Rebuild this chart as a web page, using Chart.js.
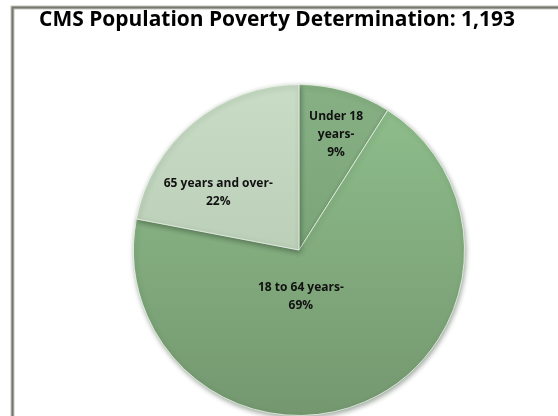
<!DOCTYPE html>
<html>
<head>
<meta charset="utf-8">
<script src="https://cdn.jsdelivr.net/npm/chart.js@4"></script>
<style>
  html, body { margin: 0; padding: 0; background: #ffffff; }
  #wrap { width: 558px; height: 416px; position: relative; }
</style>
</head>
<body>
<div id="wrap"><canvas id="c" width="558" height="416"></canvas></div>
<script>
// Age groups and their share of the 1,193 people
const categories = ['Under 18 years-', '18 to 64 years-', '65 years and over-'];
const shares = [9, 69, 22];
// Label lines as printed inside each slice
const labelLines = [
  ['Under 18', 'years-', '9%'],
  ['18 to 64 years-', '69%'],
  ['65 years and over-', '22%']
];
const chartTitle = 'CMS Population Poverty Determination: 1,193';

// Slice fills: top and bottom stops of a vertical gradient
const sliceTop = ['#87b084', '#90c08d', '#c9dcc6'];
const sliceBottom = ['#6f9a6c', '#74976f', '#afc4ab'];
// Nudge of each label from the slice's own centre point
const labelNudge = [[14, -36], [-31, -29], [-28, 6]];

function sliceFill(ctx) {
  const chart = ctx.chart;
  const area = chart.chartArea;
  if (!area) return sliceTop[ctx.dataIndex];
  const g = chart.ctx.createLinearGradient(0, area.top, 0, area.bottom);
  g.addColorStop(0, sliceTop[ctx.dataIndex]);
  g.addColorStop(1, sliceBottom[ctx.dataIndex]);
  return g;
}

// Frame lines and the heading
const framePlugin = {
  id: 'frame',
  beforeDraw(chart) {
    const c = chart.ctx;
    c.save();
    c.fillStyle = '#ffffff';
    c.fillRect(0, 0, chart.width, chart.height);
    c.strokeStyle = '#c4c4bc';
    c.lineWidth = 4;
    c.beginPath();
    c.moveTo(12.5, chart.height);
    c.lineTo(12.5, 7.5);
    c.lineTo(chart.width, 7.5);
    c.stroke();
    c.strokeStyle = '#77776f';
    c.lineWidth = 2;
    c.stroke();
    c.fillStyle = '#000000';
    // heading spans x 39..515
    let size = 19;
    c.font = 'bold ' + size + 'px "Open Sans", Lato, sans-serif';
    const w = c.measureText(chartTitle).width;
    size = size * 476 / w;
    c.font = 'bold ' + size.toFixed(2) + 'px "Open Sans", Lato, sans-serif';
    c.textAlign = 'center';
    c.textBaseline = 'middle';
    c.fillText(chartTitle, 277, 20);
    c.restore();
  }
};

// Soft edge shadow round the pie
const shadowPlugin = {
  id: 'pieShadow',
  beforeDatasetDraw(chart) {
    const c = chart.ctx;
    c.save();
    c.shadowColor = 'rgba(40, 60, 40, 0.45)';
    c.shadowBlur = 5;
    c.shadowOffsetX = 1;
    c.shadowOffsetY = 2;
  },
  afterDatasetDraw(chart) {
    chart.ctx.restore();
  }
};

// Text inside each slice
const sliceLabelPlugin = {
  id: 'sliceLabels',
  afterDatasetsDraw(chart) {
    const c = chart.ctx;
    const meta = chart.getDatasetMeta(0);
    c.save();
    c.fillStyle = '#111111';
    c.font = 'bold 12px "Open Sans", Lato, sans-serif';
    c.textAlign = 'center';
    c.textBaseline = 'middle';
    const lineH = 18;
    meta.data.forEach((arc, i) => {
      const p = arc.tooltipPosition();
      const lines = labelLines[i];
      const x = p.x + labelNudge[i][0];
      const y0 = p.y + labelNudge[i][1] - (lines.length - 1) * lineH / 2;
      lines.forEach((t, k) => c.fillText(t, x, y0 + k * lineH));
    });
    c.restore();
  }
};

new Chart(document.getElementById('c'), {
  type: 'pie',
  data: {
    labels: categories,
    datasets: [{
      data: shares,
      backgroundColor: sliceFill,
      borderColor: 'rgba(235, 245, 232, 0.8)',
      borderWidth: 1
    }]
  },
  options: {
    responsive: false,
    animation: false,
    layout: { padding: { top: 84, bottom: 0, left: 133, right: 93 } },
    plugins: {
      legend: { display: false },
      tooltip: { enabled: false },
      title: { display: false }
    }
  },
  plugins: [framePlugin, shadowPlugin, sliceLabelPlugin]
});
</script>
</body>
</html>
